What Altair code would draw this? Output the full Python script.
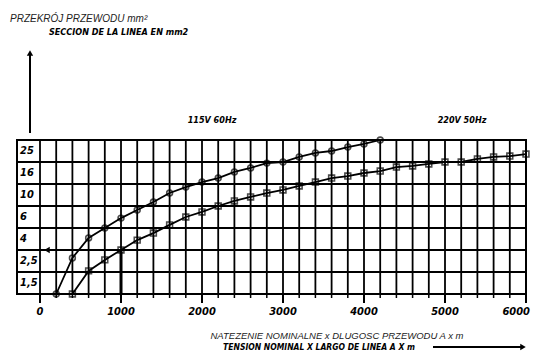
import altair as alt
import pandas as pd

# ---------------- data ----------------
# section labels (mm2) and the grid line index each one belongs to
sec_labels = ["1,5", "2,5", "4", "6", "10", "16", "25"]
sec_lines = [1, 2, 3, 4, 5, 6, 7]
grid_rows = [0, 1, 2, 3, 4, 5, 6, 7]

x_grid = list(range(0, 6001, 200))
x_major = [0, 1000, 2000, 3000, 4000, 5000, 6000]
x_major_labels = ["0", "1000", "2000", "3000", "4000", "5000", "6000"]

# 115V 60Hz curve (A x m, position on section grid)
x_115 = [200, 400, 600, 800, 1000, 1200, 1400, 1600, 1800, 2000, 2200,
         2400, 2600, 2800, 3000, 3200, 3400, 3600, 3800, 4000, 4200]
y_115 = [0, 1.64, 2.55, 3.0, 3.45, 3.82, 4.18, 4.59, 4.86, 5.09, 5.27,
         5.55, 5.73, 5.95, 6.0, 6.23, 6.41, 6.5, 6.68, 6.82, 7.0]

# 220V 50Hz curve
x_220 = [400, 600, 800, 1000, 1200, 1400, 1600, 1800, 2000, 2200, 2400,
         2600, 2800, 3000, 3200, 3400, 3600, 3800, 4000, 4200, 4400, 4600,
         4800, 5000, 5200, 5400, 5600, 5800, 6000]
y_220 = [0, 1.05, 1.55, 2.0, 2.45, 2.77, 3.14, 3.5, 3.73, 4.0, 4.23,
         4.41, 4.59, 4.73, 4.91, 5.09, 5.27, 5.36, 5.5, 5.59, 5.77, 5.82,
         5.91, 6.0, 6.0, 6.14, 6.23, 6.27, 6.36]

# example reading: 1000 A x m -> 2,5 mm2
ref_x = [1000]
ref_level = [2]

# ---------------- helpers ----------------
CAD = "DejaVu Sans Condensed, Liberation Sans Narrow, sans-serif"
SANS = "Liberation Sans, Arial, sans-serif"
xs = alt.Scale(domain=[-284, 6000], nice=False, zero=False)
ys = alt.Scale(domain=[0, 7], nice=False, zero=False)


def X(f):
    return alt.X(f, type="quantitative", scale=xs, axis=None)


def Y(f):
    return alt.Y(f, type="quantitative", scale=ys, axis=None)


one = pd.DataFrame({"d": [0]})

rows_df = pd.DataFrame({"r": grid_rows})
cols_df = pd.DataFrame({"x": x_grid})
major_df = pd.DataFrame({"x": x_major, "t": x_major_labels})
lab_df = pd.DataFrame({"pos": [v - 0.5 for v in sec_lines], "t": sec_labels})
curves = pd.concat([
    pd.DataFrame({"x": x_115, "y": y_115, "s": "115V 60Hz"}),
    pd.DataFrame({"x": x_220, "y": y_220, "s": "220V 50Hz"}),
])
ref_df = pd.DataFrame({"x": ref_x, "y": ref_level, "y0": [0]})

hgrid = alt.Chart(rows_df).mark_rule(color="black", strokeWidth=2).encode(y=Y("r"))
vgrid = alt.Chart(cols_df).mark_rule(color="black", strokeWidth=1.8).encode(x=X("x"))
ticks = alt.Chart(cols_df).mark_rule(color="black", strokeWidth=1.5).encode(
    x=X("x"), y=alt.value(154), y2=alt.value(158))
mticks = alt.Chart(major_df).mark_rule(color="black", strokeWidth=2).encode(
    x=X("x"), y=alt.value(154), y2=alt.value(163))

xlab = alt.Chart(major_df[major_df.x < 6000]).mark_text(
    font=CAD, fontSize=11, fontWeight="bold", fontStyle="italic", align="center",
    baseline="middle", color="black").encode(x=X("x"), y=alt.value(172), text="t:N")
xlab_last = alt.Chart(major_df[major_df.x == 6000]).mark_text(
    font=CAD, fontSize=11, fontWeight="bold", fontStyle="italic", align="right",
    baseline="middle", color="black", dx=4).encode(x=X("x"), y=alt.value(172), text="t:N")

ylab = alt.Chart(lab_df).mark_text(
    font=CAD, fontSize=11, fontWeight="bold", fontStyle="italic", align="left",
    baseline="middle", color="black").encode(x=alt.value(3), y=Y("pos"), text="t:N")

lines = alt.Chart(curves).mark_line(color="black", strokeWidth=1.8).encode(
    x=X("x"), y=Y("y"), detail="s:N")
pts = alt.Chart(curves).mark_point(filled=False, color="black", size=34, strokeWidth=1.6).encode(
    x=X("x"), y=Y("y"),
    shape=alt.Shape("s:N", scale=alt.Scale(domain=["115V 60Hz", "220V 50Hz"],
                                           range=["circle", "square"]), legend=None))

ref_rule = alt.Chart(ref_df).mark_rule(color="black", strokeWidth=3).encode(
    x=X("x"), y=Y("y"), y2="y0")
ref_arrow = alt.Chart(ref_df).mark_point(shape="triangle-left", filled=True, color="black",
                                         size=40, opacity=1).encode(x=alt.value(30), y=Y("y"))

def txt(s, x, y, font, size, weight="normal", style="normal", align="left", color="black"):
    return alt.Chart(pd.DataFrame({"t": [s]})).mark_text(
        font=font, fontSize=size, fontWeight=weight, fontStyle=style, align=align,
        baseline="middle", color=color).encode(x=alt.value(x), y=alt.value(y), text="t:N")

t1 = txt("PRZEKRÓJ PRZEWODU mm²", -7, -121, SANS, 10, style="italic", color="#222")
t2 = txt("SECCION DE LA LINEA EN mm2", 32, -108, CAD, 9, weight="bold", style="italic")
t3 = txt("115V 60Hz", 195, -20, CAD, 9, weight="bold", style="italic", align="center")
t4 = txt("220V 50Hz", 445, -20, CAD, 9, weight="bold", style="italic", align="center")
t5 = txt("NATEZENIE NOMINALNE x DLUGOSC PRZEWODU A x m", 320, 196, SANS, 9.5,
         style="italic", align="center", color="#222")
t6 = txt("TENSION NOMINAL X LARGO DE LINEA A X m", 302, 207, CAD, 8.5, weight="bold",
         style="italic", align="center")

varrow = alt.Chart(one).mark_rule(color="black", strokeWidth=2).encode(
    x=alt.value(13), y=alt.value(-7), y2=alt.value(-86))
varrow_h = alt.Chart(one).mark_point(shape="triangle-up", filled=True, color="black",
                                     size=40, opacity=1).encode(x=alt.value(13), y=alt.value(-87))
harrow = alt.Chart(one).mark_rule(color="black", strokeWidth=2).encode(
    x=alt.value(416), x2=alt.value(505), y=alt.value(207))
harrow_h = alt.Chart(one).mark_point(shape="triangle-right", filled=True, color="black",
                                     size=40, opacity=1).encode(x=alt.value(506), y=alt.value(207))

chart = alt.layer(
    hgrid, vgrid, ticks, mticks, xlab, xlab_last, ylab, ref_rule, ref_arrow,
    lines, pts, t1, t2, t3, t4, t5, t6, varrow, varrow_h, harrow, harrow_h
).properties(
    width=509, height=154,
    autosize=alt.AutoSizeParams(type="none"),
    padding={"left": 9, "top": 132, "right": 5, "bottom": 57},
    background="white",
).configure_view(stroke="black", strokeWidth=2)

chart.save("out.html", embed_options={"renderer": "svg", "actions": False})
